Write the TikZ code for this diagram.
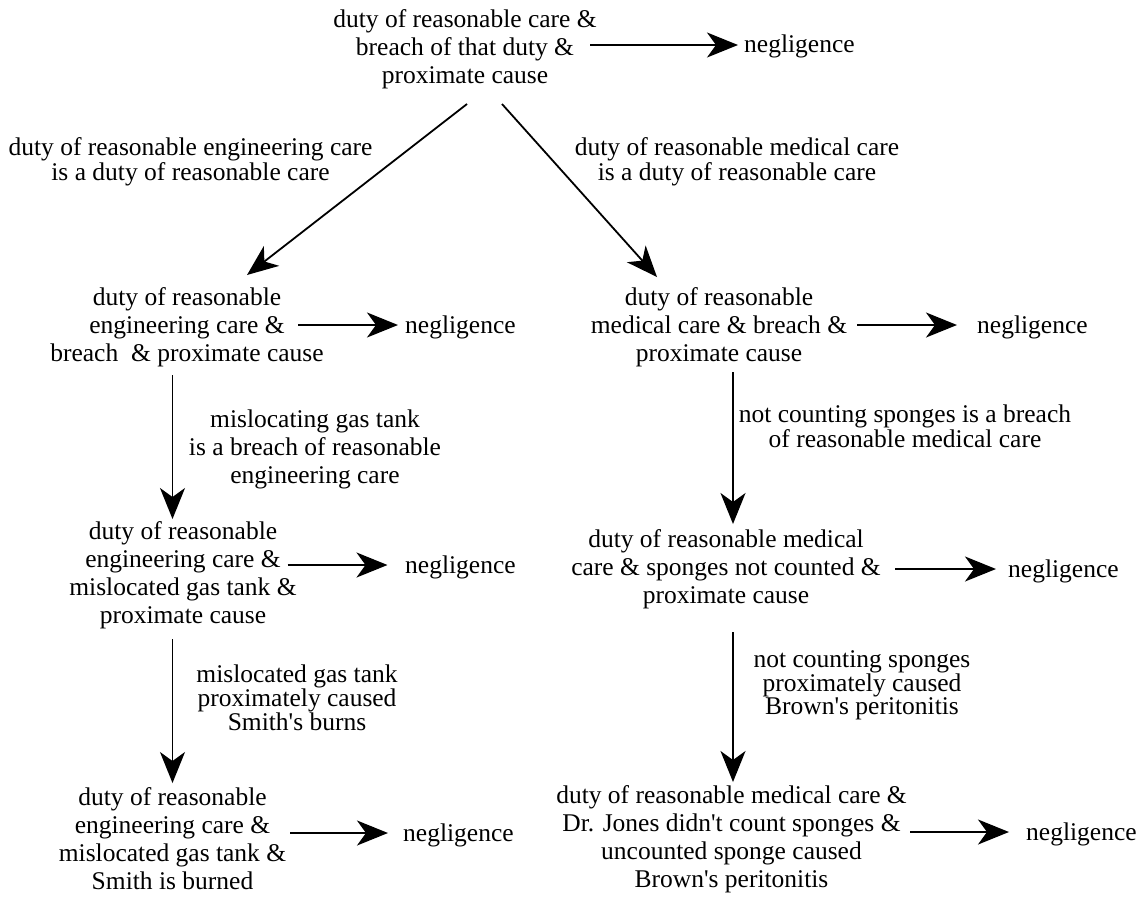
\documentclass[tikz,border=0pt]{standalone}
\usepackage{fontspec}
\setmainfont{Liberation Serif}
\usetikzlibrary{arrows.meta}
\newcommand{\apos}{\textquotesingle}
\begin{document}
\begin{tikzpicture}[x=1pt,y=-1pt,
  txt/.style={align=center, inner sep=0pt, font=\fontsize{25.5}{28}\selectfont},
  wide/.style={align=center, inner sep=0pt, font=\fontsize{25.5}{25}\selectfont},
  tight/.style={align=center, inner sep=0pt, font=\fontsize{25.5}{23}\selectfont},
  neg/.style={anchor=west, inner sep=0pt, font=\fontsize{25.5}{28}\selectfont},
  arr/.style={line width=1.8pt, -{Stealth[length=31pt,width=25pt,inset=9pt]}}]
\useasboundingbox (0,0) rectangle (1141,898);

% ---- general rule ----
\node[txt] (top) at (465,49.5) {duty of reasonable care \&\\breach of that duty \&\\proximate cause};
\node[neg] (neg0) at (744,46) {negligence};
\coordinate (h0) at (590,45);
\draw[arr] (h0) -- ([xshift=-6pt]neg0.west |- h0);

% ---- specialisations ----
\node[wide] (la) at (190.5,162) {duty of reasonable engineering care\\is a duty of reasonable care};
\node[wide] (ra) at (737,162) {duty of reasonable medical care\\is a duty of reasonable care};
\coordinate (dl0) at (467,104);
\coordinate (dl1) at (247,275);
\coordinate (dr0) at (502,104);
\coordinate (dr1) at (657,277);
\draw[arr] (dl0) -- (dl1);
\draw[arr] (dr0) -- (dr1);

% ---- second row ----
\node[txt] (l2) at (187,327.5) {duty of reasonable\\engineering care \&\\breach~~\& proximate cause};
\node[neg] (neg1) at (405,327) {negligence};
\coordinate (h1) at (298,325);
\draw[arr] (h1) -- ([xshift=-7pt]neg1.west |- h1);

\node[txt] (r2) at (719,327.5) {duty of reasonable\\medical care \& breach \&\\proximate cause};
\node[neg] (neg2) at (977,327) {negligence};
\coordinate (h2) at (857,325);
\draw[arr] (h2) -- ([xshift=-20pt]neg2.west |- h2);

% ---- breach ----
\node[txt] (lb) at (315,449) {mislocating gas tank\\is a breach of reasonable\\engineering care};
\coordinate (vl1a) at (172.5,375);
\coordinate (vl1b) at (172.5,519);
\draw[arr] (vl1a) -- (vl1b);

\node[wide] (rb) at (905,426) {not counting sponges is a breach\\of reasonable medical care};
\coordinate (vr1a) at (733,372);
\coordinate (vr1b) at (733,524);
\draw[arr] (vr1a) -- (vr1b);

% ---- third row ----
\node[txt] (l3) at (183,575) {duty of reasonable\\engineering care \&\\mislocated gas tank \&\\proximate cause};
\node[neg] (neg3) at (405,567) {negligence};
\coordinate (h3) at (287.5,565);
\draw[arr] (h3) -- ([xshift=-17.5pt]neg3.west |- h3);

\node[txt] (r3) at (726,569) {duty of reasonable medical\\care \& sponges not counted \&\\proximate cause};
\node[neg] (neg4) at (1008,571) {negligence};
\coordinate (h4) at (895,569);
\draw[arr] (h4) -- ([xshift=-12pt]neg4.west |- h4);

% ---- causation ----
\node[tight] (lc) at (297,698) {mislocated gas tank\\proximately caused\\Smith\apos s burns};
\coordinate (vl2a) at (172.5,639);
\coordinate (vl2b) at (172.5,783);
\draw[arr] (vl2a) -- (vl2b);

\node[tight] (rc) at (862,685) {not counting sponges\\proximately caused\\Brown\apos s peritonitis};
\coordinate (vr2a) at (733,632);
\coordinate (vr2b) at (733,782);
\draw[arr] (vr2a) -- (vr2b);

% ---- fourth row ----
\node[txt] (l4) at (172.5,839) {duty of reasonable\\engineering care \&\\mislocated gas tank \&\\Smith is burned};
\node[neg] (neg5) at (403,835) {negligence};
\coordinate (h5) at (290,833);
\draw[arr] (h5) -- ([xshift=-15pt]neg5.west |- h5);

\node[txt] (r4) at (731.5,839) {duty of reasonable medical care \&\\Dr. Jones didn\apos t count sponges \&\\uncounted sponge caused\\Brown\apos s peritonitis};
\node[neg] (neg6) at (1026,834) {negligence};
\coordinate (h6) at (910,832);
\draw[arr] (h6) -- ([xshift=-17pt]neg6.west |- h6);
\end{tikzpicture}
\end{document}
